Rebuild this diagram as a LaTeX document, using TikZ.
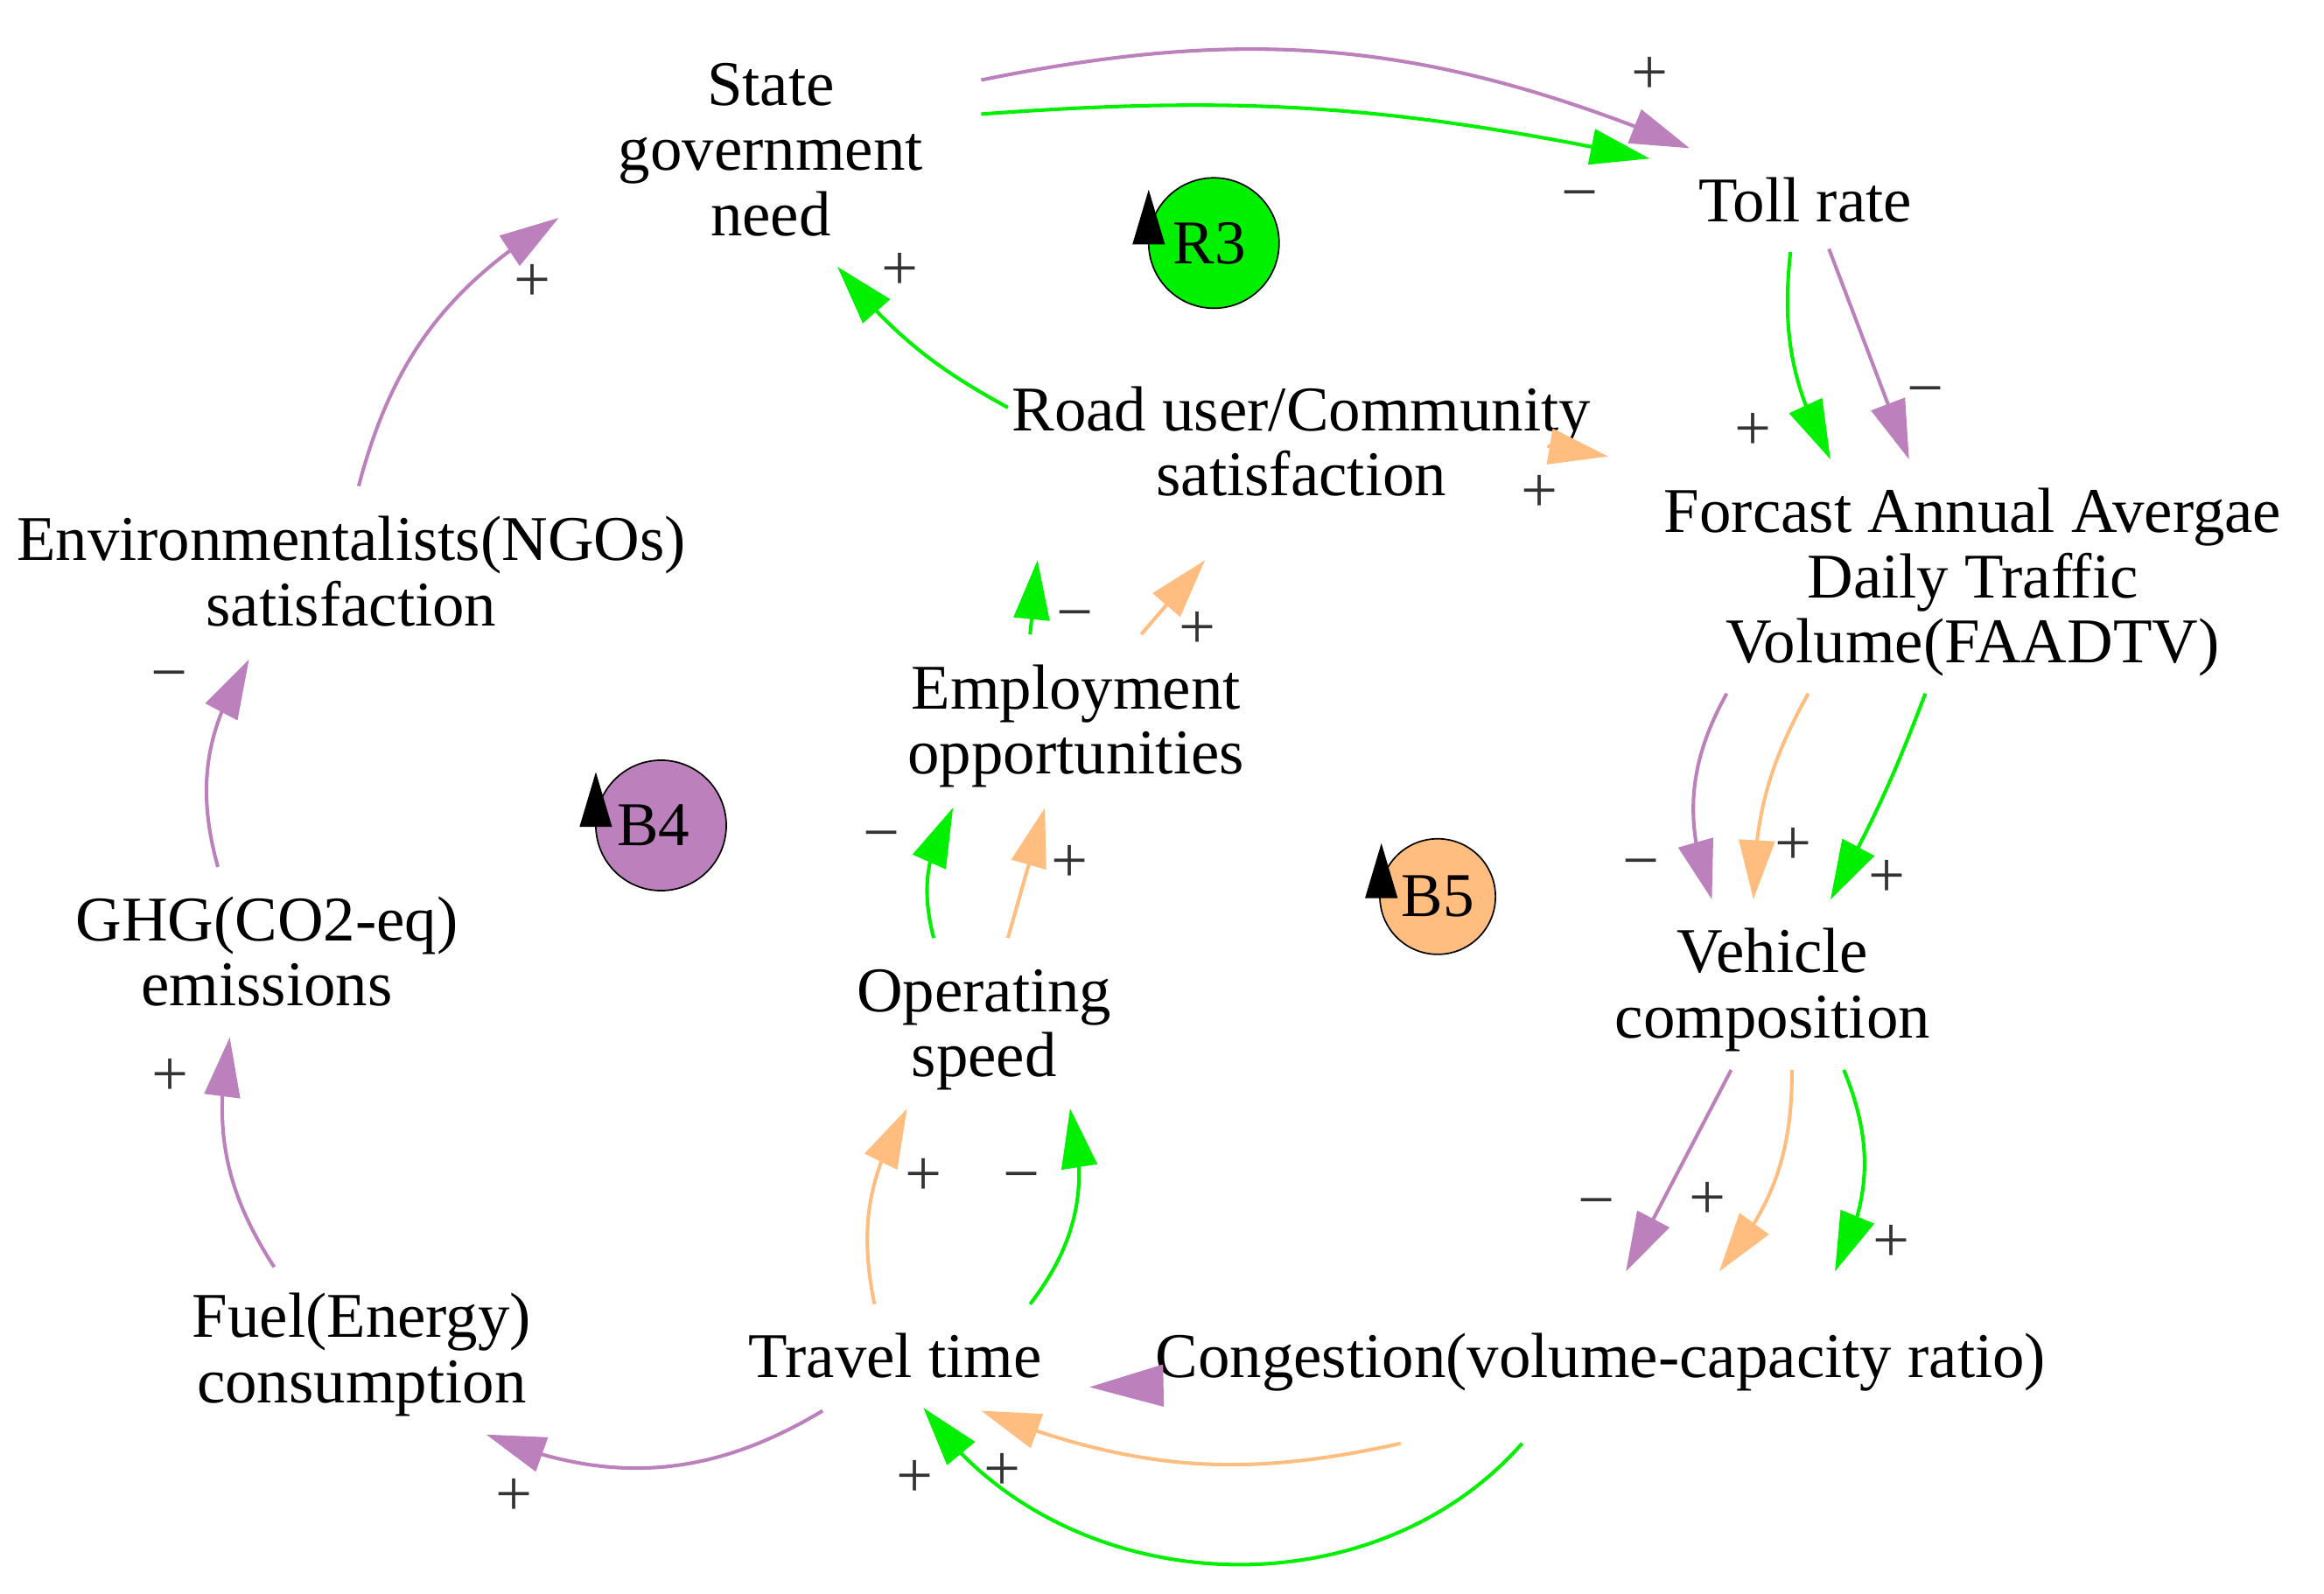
\documentclass[tikz,border=0pt]{standalone}
\usepackage{fontspec}
\setmainfont{Liberation Serif}
\usepackage{xcolor}
\usetikzlibrary{
    arrows.meta,
    bending,
    calc,
    positioning
}
\definecolor{lgreen}{HTML}{00F000}
\definecolor{lpurple}{HTML}{BC80BD}
\definecolor{lorange}{HTML}{FFBE7F}
\tikzset{
    var/.style={align=center, inner sep=0pt, font=\fontsize{43}{44}\selectfont},
    sign/.style={inner sep=0pt, text=black!80, text height=29pt, text depth=0pt, font=\fontsize{44}{44}\selectfont},
    loopmark/.style={circle, draw=black, line width=1pt, minimum size=88pt, inner sep=0pt, font=\fontsize{42}{44}\selectfont},
    link/.style={line width=2.4pt, -{Triangle[length=40pt, width=24pt]}},
    glink/.style={link, lgreen},
    plink/.style={link, lpurple},
    olink/.style={link, lorange}
}
\newcommand{\looptip}[1]{\fill ($(#1)+(-44,-36)$) -- ($(#1)+(-33,1)$) -- ($(#1)+(-55,1)$) -- cycle;}

\begin{document}
\begin{tikzpicture}[x=1pt, y=-1pt]
    \useasboundingbox (0, 0) rectangle (1568, 1075.6);

    \node[var] (state) at (520, 101) {State\\government\\need};
    \node[var] (toll) at (1218, 135) {Toll rate};
    \node[var] (road) at (878, 298) {Road user/Community\\satisfaction};
    \node[var] (faadtv) at (1331, 393) {Forcast Annual Avergae\\Daily Traffic\\Volume(FAADTV)};
    \node[var] (env) at (237, 385.5) {Environmentalists(NGOs)\\satisfaction};
    \node[var] (emp) at (726, 490) {Employment\\opportunities};
    \node[var] (ghg) at (180, 642) {GHG(CO2-eq)\\emissions};
    \node[var] (op) at (664, 695) {Operating\\speed};
    \node[var] (veh) at (1196, 668) {Vehicle\\composition};
    \node[var] (fuel) at (244, 914) {Fuel(Energy)\\consumption};
    \node[var] (travel) at (604, 915) {Travel time};
    \node[var] (cong) at (1080, 919) {Congestion(volume-capacity ratio)};

    \node[loopmark, fill=lgreen] (r3) at (819, 164) {\kern-6pt R3};
    \node[loopmark, fill=lpurple] (b4) at (446, 557) {\kern-10pt B4};
    \node[loopmark, fill=lorange, minimum size=78pt] (b5) at (970, 605) {B5};
    \looptip{r3}
    \looptip{b4}
    \looptip{$(b5)+(6,0)$}

    % top and right side
    \draw[plink] ($(state)+(142,-47)$) to[bend left=17] ($(toll)+(-78,-35)$);
    \draw[glink] ($(state)+(142,-24)$) to[bend left=8] ($(toll)+(-105,-28)$);
    \draw[glink] ($(road)+(-198,-23)$) to[bend left=11] ($(state)+(45,79)$);
    \draw[glink] ($(toll)+(-10,35)$) to[bend right=17] ($(faadtv)+(-96,-83)$);
    \draw[plink] ($(toll)+(16,33)$) -- ($(faadtv)+(-43,-83)$);
    \draw[olink] ($(road)+(166,3)$) -- ($(road)+(207,10)$);
    \draw[plink] ($(faadtv)+(-166,75)$) to[bend right=25] ($(veh)+(-41,-61)$);
    \draw[olink] ($(faadtv)+(-111,75)$) to[bend right=14] ($(veh)+(-13,-61)$);
    \draw[glink] ($(faadtv)+(-32,75)$) to[bend left=4] ($(veh)+(39,-61)$);
    \draw[plink] ($(veh)+(-28,54)$) -- ($(cong)+(17,-61)$);
    \draw[olink] ($(veh)+(13,54)$) to[bend left=20] ($(cong)+(80,-61)$);
    \draw[glink] ($(veh)+(48,54)$) to[bend left=25] ($(cong)+(158,-61)$);

    % middle chain
    \draw[glink] ($(emp)+(-31,-62)$) -- ($(road)+(-178,80)$);
    \draw[olink] ($(emp)+(44,-62)$) -- ($(road)+(-65,80)$);
    \draw[glink] ($(op)+(-34,-62)$) to[bend left=23] ($(emp)+(-83,55)$);
    \draw[olink] ($(op)+(16,-62)$) -- ($(emp)+(-21,55)$);
    \draw[olink] ($(travel)+(-14,-35)$) to[bend left=21] ($(op)+(-52,53)$);
    \draw[glink] ($(travel)+(91,-35)$) to[bend right=26] ($(op)+(58,53)$);

    % bottom
    \draw[plink, -{Triangle[length=50pt, width=28pt]}] ($(cong)+(-296,16)$) -- ($(cong)+(-345,17)$);
    \draw[olink] ($(cong)+(-135,55)$) to[bend left=17] ($(travel)+(58,37)$);
    \draw[glink] ($(cong)+(-53,55)$) to[bend left=52] ($(travel)+(19,35)$);

    % left side
    \draw[plink] ($(travel)+(-49,37)$) to[bend left=27] ($(fuel)+(84,54)$);
    \draw[plink] ($(fuel)+(-59,-59)$) to[bend left=22] ($(ghg)+(-25,58)$);
    \draw[plink] ($(ghg)+(-33,-57)$) to[bend left=24] ($(env)+(-69,59.5)$);
    \draw[plink] ($(env)+(5,-57.5)$) to[bend left=22] ($(state)+(-143,46)$);

    % polarity signs
    \node[sign] (p1) at (1113, 49) {+};
    \node[sign] (m1) at (1066, 130) {−};
    \node[sign] (p2) at (607, 181) {+};
    \node[sign] (p3) at (1183, 289) {+};
    \node[sign] (m2) at (1299, 262) {−};
    \node[sign] (p4) at (1039, 331) {+};
    \node[sign] (m3) at (725, 413) {−};
    \node[sign] (p5) at (808, 423) {+};
    \node[sign] (m4) at (595, 562) {−};
    \node[sign] (p6) at (722, 581) {+};
    \node[sign] (m5) at (1107, 581) {−};
    \node[sign] (p7) at (1210, 569) {+};
    \node[sign] (p8) at (1273, 591) {+};
    \node[sign] (p9) at (359, 189) {+};
    \node[sign] (m6) at (114, 454) {−};
    \node[sign] (p10) at (115, 725) {+};
    \node[sign] (p11) at (623, 792) {+};
    \node[sign] (m7) at (689, 792) {−};
    \node[sign] (m8) at (1077, 810) {−};
    \node[sign] (p12) at (1152, 808) {+};
    \node[sign] (p13) at (1276, 837) {+};
    \node[sign] (p14) at (347, 1008) {+};
    \node[sign] (p15) at (617, 996) {+};
    \node[sign] (p16) at (676, 991) {+};
\end{tikzpicture}
\end{document}
